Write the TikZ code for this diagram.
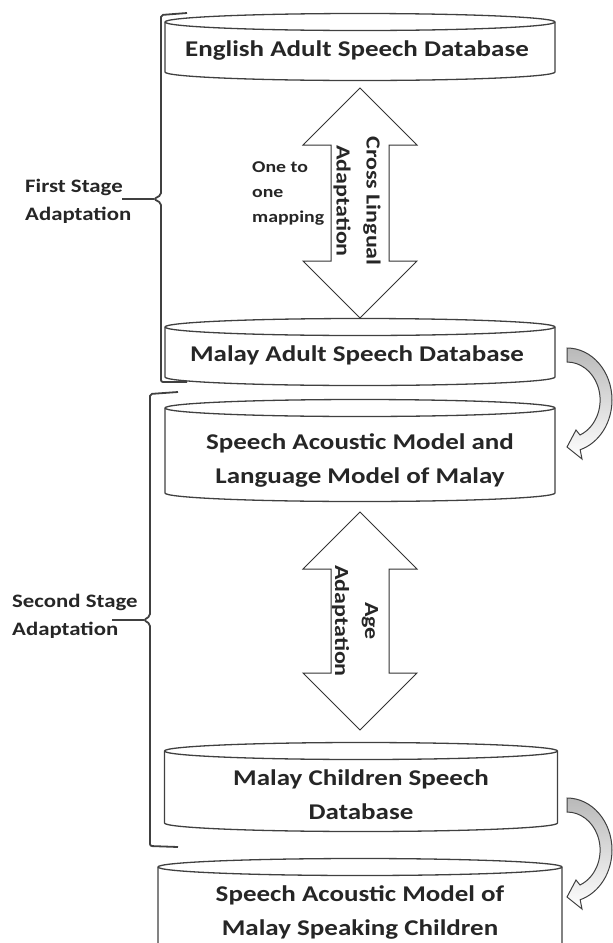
\documentclass[tikz,border=0pt]{standalone}
\usepackage{fontspec}
\setmainfont{Carlito}
\newfontfamily\widefont[FakeStretch=1.2]{Carlito}
\usetikzlibrary{positioning,calc,shapes.arrows,backgrounds}

% cylinder round a named text node: node, half width, up, down
\newcommand\dbcyl[4]{%
  \begin{scope}[on background layer]
    \filldraw[dbline, fill=white] ($(#1)+(-#2,#3)$) -- ($(#1)+(-#2,-#4)$)
      arc[start angle=180, end angle=360, x radius=#2, y radius=8.5]
      -- ($(#1)+(#2,#3)$)
      arc[start angle=0, end angle=180, x radius=#2, y radius=8.5] -- cycle;
    \draw[dbline] ($(#1)+(-#2,#3)$)
      arc[start angle=180, end angle=360, x radius=#2, y radius=8.5];
  \end{scope}}

\begin{document}
\begin{tikzpicture}[x=1pt, y=1pt,
    dbline/.style = { line width=1.3pt, draw=black!75 },
    dbtext/.style = { align=center, inner sep=0, text=black!85,
                      font=\widefont\fontsize{22.5}{34}\selectfont\bfseries },
    dbl/.style    = { double arrow, draw=black!80, line width=1pt, rotate=90,
                      double arrow head extend=28, inner xsep=0, inner ysep=28.5 },
    side/.style   = { align=center, inner sep=0, rotate=-90, text=black!85,
                      font=\widefont\fontsize{20}{30}\selectfont\bfseries },
    stage/.style  = { align=left, inner sep=0, anchor=west, text=black!85,
                      font=\widefont\fontsize{19}{28}\selectfont\bfseries },
    brace/.style  = { line width=1.8pt, draw=black!75, rounded corners=2pt },
    bend/.pic     = {
      \draw[line width=1pt, draw=black!75, top color=gray!55, bottom color=white]
        (0,52) arc[start angle=90, end angle=-73, x radius=45, y radius=52]
        -- (15,-59) -- (0,-47) -- (9,-30) -- (13,-35)
        arc[start angle=-67, end angle=90, x radius=33, y radius=38] -- cycle;
    }]
  \useasboundingbox (0,0) rectangle (613,-943);
  \clip (0,0) rectangle (613,-943);

  % databases
  \node[dbtext] (eng)    at (360,-51)  { English Adult Speech Database };
  \node[dbtext] (madult) at (360,-355) { Malay Adult Speech Database };
  \node[dbtext] (model)  at (360,-460) { Speech Acoustic Model and \\ Language Model of Malay };
  \node[dbtext] (child)  at (361,-795) { Malay Children Speech \\ Database };
  \node[dbtext] (final)  at (360,-912) { Speech Acoustic Model of \\ Malay Speaking Children };
  \dbcyl{eng}{195}{29}{21}
  \dbcyl{madult}{195}{28}{22}
  \dbcyl{model}{195}{52}{33}
  \dbcyl{child}{196.5}{44}{28}
  \dbcyl{final}{202}{45}{48}

  % adaptations
  \node[dbl, minimum height=230, minimum width=113] (xarrow) at ($(eng)!.5!(madult)$) {};
  \node[side] (xling) at (357,-201) { Cross Lingual \\ Adaptation };
  \node[stage, font=\widefont\fontsize{16.5}{25}\selectfont\bfseries] (map) at (252,-193) { One to \\ one \\ mapping };
  \node[dbl, minimum height=218, minimum width=114] (aarrow) at (360,-621) {};
  \node[side] (agead) at (355,-621) { Age \\ Adaptation };

  % stages
  \node[stage] (first)  at (25,-201) { First Stage \\ Adaptation };
  \node[stage] (second) at (12,-616) { Second Stage \\ Adaptation };
  \coordinate (tip1) at (154,-199);
  \coordinate (tip2) at (144,-620);
  \draw[brace] (187,-13) -- (161,-15) -- (161,-195) -- (tip1) -- (161,-203)
    -- (161,-382) -- (187,-382);
  \draw[brace] (178,-392) -- (150,-394) -- (150,-616) -- (tip2) -- (150,-624)
    -- (150,-846) -- (178,-847);
  \draw[brace] (tip1) -- (tip1 -| 122,0);
  \draw[brace] (tip2) -- (tip2 -| 112,0);

  % hand over
  \pic at (567,-400) {bend};
  \pic at (567,-850) {bend};
\end{tikzpicture}
\end{document}
